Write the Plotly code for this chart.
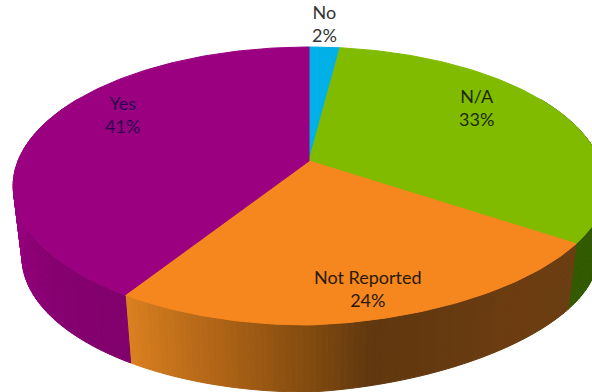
import math
import plotly.graph_objects as go

# Survey shares, clockwise from twelve o'clock
categories = ["No", "N/A", "Not Reported", "Yes"]
shares = [2, 33, 24, 41]
share_labels = ["2%", "33%", "24%", "41%"]
top_colors = ["#00B0E6", "#80BB00", "#F6861E", "#9A0080"]
label_colors = ["#333333", "#1c2a00", "#2a1a05", "#2c0050"]
label_x = [324, 476, 368, 122]
label_y = [23, 107, 288, 114]

# Side-wall shading: (angle in degrees, rgb) stops around the rim
side_stops = [
    (60, (50, 90, 0)), (125.9, (50, 90, 0)),
    (126, (106, 62, 18)), (145, (108, 60, 16)), (170, (96, 55, 15)),
    (180, (130, 75, 15)), (195, (175, 100, 22)), (212.3, (218, 128, 32)),
    (212.4, (128, 0, 108)), (235, (136, 0, 114)), (258, (150, 0, 124)),
    (275, (154, 0, 128)), (300, (154, 0, 128)),
]

# Perspective camera for the disc
CX, CY_TOP, CY_BOTTOM = 309, 161, 233
RX, RY, K, BOTTOM_SCALE = 291, 134.5, 0.18, 0.97
WARP_X, WARP_Y_TOP, WARP_Y_BOTTOM = 8, 12, 20


def rim(theta_deg, cy, scale=1.0, warp_y=WARP_Y_TOP):
    t = math.radians(theta_deg)
    u, v = math.sin(t), math.cos(t)
    w = 1 + K * v
    # the lower right of the disc sits slightly up and out
    lean = max(u, 0) * max(-v, 0)
    return CX + scale * RX * u / w + WARP_X * lean, cy - scale * RY * v / w - warp_y * lean


def side_color(theta):
    for (a0, c0), (a1, c1) in zip(side_stops, side_stops[1:]):
        if a0 <= theta <= a1:
            f = (theta - a0) / (a1 - a0)
            return "rgb(%d,%d,%d)" % tuple(round(p + f * (q - p)) for p, q in zip(c0, c1))
    return "rgb(154,0,128)"


fig = go.Figure()


def add_poly(xs, ys, color):
    fig.add_trace(go.Scatter(
        x=xs, y=ys, mode="lines", fill="toself", fillcolor=color,
        line=dict(color=color, width=1), hoverinfo="skip", showlegend=False,
    ))


# Side wall as thin shaded strips
STEP = 1.0
theta = 60.0
while theta < 300:
    next_theta = min(theta + STEP, 300)
    # keep a strip boundary exactly on each slice edge
    for edge in (126, 212.4):
        if theta < edge < next_theta:
            next_theta = edge
    x1, y1 = rim(theta, CY_TOP)
    x2, y2 = rim(next_theta, CY_TOP)
    x3, y3 = rim(next_theta, CY_BOTTOM, BOTTOM_SCALE, WARP_Y_BOTTOM)
    x4, y4 = rim(theta, CY_BOTTOM, BOTTOM_SCALE, WARP_Y_BOTTOM)
    add_poly([x1, x2, x3, x4, x1], [y1, y2, y3, y4, y1],
             side_color((theta + next_theta) / 2))
    theta = next_theta

# Top face wedges, sized from the shares
start = 0.0
total = sum(shares)
for share, color in zip(shares, top_colors):
    end = start + 360.0 * share / total
    n = max(4, int(end - start))
    pts = [rim(start + (end - start) * i / n, CY_TOP) for i in range(n + 1)]
    xs = [CX] + [p[0] for p in pts] + [CX]
    ys = [CY_TOP] + [p[1] for p in pts] + [CY_TOP]
    add_poly(xs, ys, color)
    start = end

annotations = [
    dict(x=x, y=y, xref="x", yref="y", text=f"{c}<br>{s}", showarrow=False,
         align="center", font=dict(family="Lato", size=18, color=col))
    for c, s, x, y, col in zip(categories, share_labels, label_x, label_y, label_colors)
]

fig.update_layout(
    width=592, height=392, margin=dict(l=0, r=0, t=0, b=0),
    paper_bgcolor="white", plot_bgcolor="white", showlegend=False,
    xaxis=dict(range=[0, 592], visible=False, fixedrange=True),
    yaxis=dict(range=[392, 0], visible=False, fixedrange=True),
    annotations=annotations,
)
fig.write_html("out.html", config=dict(displayModeBar=False))
